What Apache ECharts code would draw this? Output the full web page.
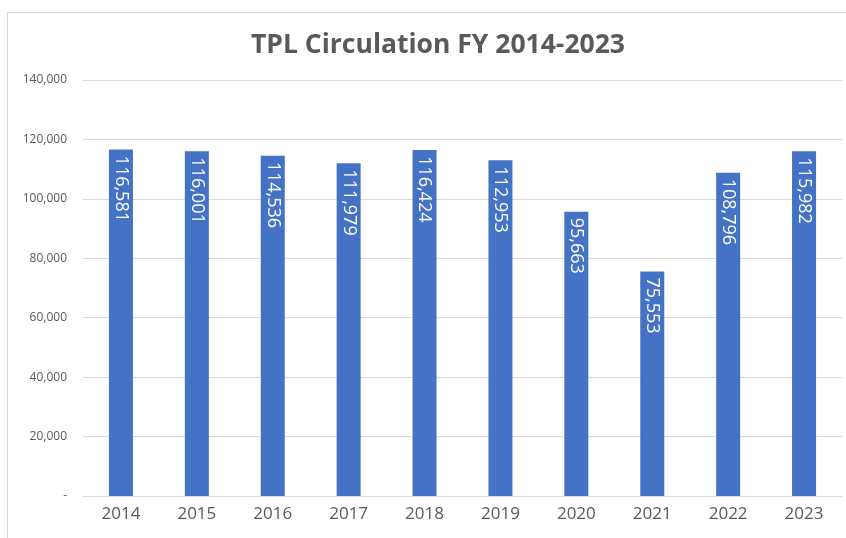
<!DOCTYPE html>
<html>
<head>
<meta charset="utf-8">
<script src="https://cdn.jsdelivr.net/npm/echarts@6/dist/echarts.min.js"></script>
<style>
  html, body { margin: 0; padding: 0; background: #fff; }
  #frame { position: absolute; left: 7px; top: 12px; width: 845px; height: 540px; border: 1px solid #d9d9d9; box-sizing: border-box; }
  #chart { position: absolute; left: 0; top: 0; width: 846px; height: 538px; }
</style>
</head>
<body>
<div id="frame"></div>
<div id="chart"></div>
<script>
const years = ['2014', '2015', '2016', '2017', '2018', '2019', '2020', '2021', '2022', '2023'];
const circulation = [116581, 116001, 114536, 111979, 116424, 112953, 95663, 75553, 108796, 115982];
const yTicks = [0, 20000, 40000, 60000, 80000, 100000, 120000, 140000];

const fmt = (v) => (v === 0 ? '-' : v.toLocaleString('en-US'));

const myChart = echarts.init(document.getElementById('chart'));
myChart.setOption({
  animation: false,
  title: {
    text: 'TPL Circulation FY 2014-2023',
    left: 433,
    textAlign: 'center',
    top: 27,
    textStyle: {
      fontFamily: 'Open Sans',
      fontSize: 26.5,
      fontWeight: 'bold',
      color: '#595959',
    },
  },
  grid: {
    left: 83,
    right: 4,
    top: 80,
    bottom: 42,
  },
  xAxis: {
    type: 'category',
    data: years,
    axisLine: { show: true, lineStyle: { color: '#d9d9d9' } },
    axisTick: { show: false },
    axisLabel: {
      color: '#595959',
      fontSize: 17,
      fontFamily: 'Open Sans',
      margin: 10,
    },
  },
  yAxis: {
    type: 'value',
    min: yTicks[0],
    max: yTicks[yTicks.length - 1],
    interval: 20000,
    axisLine: { show: false },
    axisTick: { show: false },
    splitLine: { lineStyle: { color: '#d9d9d9' } },
    axisLabel: {
      color: '#595959',
      fontSize: 12,
      fontFamily: 'Open Sans',
      margin: 16,
      formatter: fmt,
    },
  },
  series: [{
    type: 'bar',
    data: circulation,
    barWidth: 24,
    itemStyle: { color: '#4472c4' },
    label: {
      show: true,
      position: 'insideTop',
      distance: 6,
      rotate: -90,
      align: 'left',
      verticalAlign: 'middle',
      color: '#ffffff',
      fontSize: 18,
      fontFamily: 'Open Sans',
      formatter: (p) => fmt(p.value),
    },
  }],
});
</script>
</body>
</html>
